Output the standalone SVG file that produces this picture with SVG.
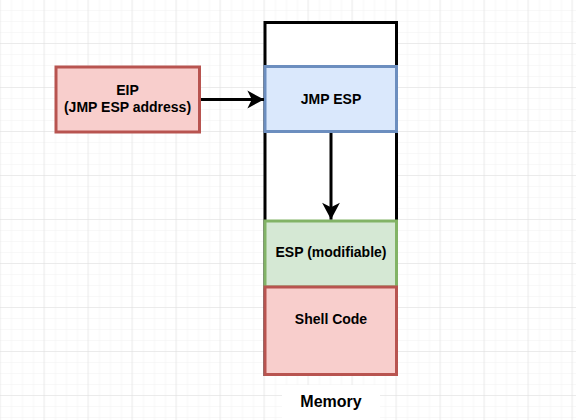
<svg xmlns="http://www.w3.org/2000/svg" width="576" height="420" viewBox="0 0 576 420">
  <defs>
    <pattern id="minor" width="11" height="11" patternUnits="userSpaceOnUse" x="0.5" y="0">
      <path d="M11 0V11M0 11H11" fill="none" stroke="#f0f0f0" stroke-width="1"/>
    </pattern>
    <pattern id="major" width="44" height="44" patternUnits="userSpaceOnUse" x="0.5" y="0">
      <rect width="44" height="44" fill="url(#minor)"/>
      <path d="M44 0V44M0 44H44" fill="none" stroke="#dedede" stroke-width="1"/>
    </pattern>
    <marker id="arrow" markerUnits="userSpaceOnUse" markerWidth="20" markerHeight="20" viewBox="-16 -9 17 18" refX="0" refY="0" orient="auto">
      <path d="M0 0L-15 -8L-11 0L-15 8Z" fill="#000"/>
    </marker>
    <style>
      .lbl{font-family:"Liberation Sans",Arial,sans-serif;font-weight:bold;font-size:14px;fill:#000;text-anchor:middle}
      .red{fill:#f8cecc;stroke:#b85450;stroke-width:3}
      .blue{fill:#dae8fc;stroke:#6c8ebf;stroke-width:3}
      .green{fill:#d5e8d4;stroke:#82b366;stroke-width:3}
      .edge{fill:none;stroke:#000;stroke-width:3;marker-end:url(#arrow)}
    </style>
  </defs>
  <rect width="576" height="420" fill="#fff"/>
  <rect width="576" height="420" fill="url(#major)"/>

  <g id="memory">
    <rect x="265" y="22.5" width="131.5" height="352" fill="#fff" stroke="#000" stroke-width="3"/>
    <rect x="282" y="385" width="98" height="40" fill="#fff"/>
    <text class="lbl" x="331" y="407" style="font-size:16px">Memory</text>
  </g>

  <g id="eip">
    <rect class="red" x="56" y="67" width="143.5" height="65"/>
    <text class="lbl" x="127.5" y="95">EIP</text>
    <text class="lbl" x="127.5" y="112">(JMP ESP address)</text>
  </g>

  <g id="jmp-esp">
    <rect class="blue" x="265" y="66.5" width="131.5" height="65"/>
    <text class="lbl" x="331" y="104">JMP ESP</text>
  </g>

  <g id="esp">
    <rect class="green" x="265" y="221" width="131.5" height="66"/>
    <text class="lbl" x="331" y="257">ESP (modifiable)</text>
  </g>

  <g id="shell-code">
    <rect class="red" x="265" y="287" width="131.5" height="87.5"/>
    <text class="lbl" x="331" y="324">Shell Code</text>
  </g>

  <g id="connectors">
    <path class="edge" d="M201 99.5H264"/>
    <path class="edge" d="M331 133V219.5"/>
  </g>
</svg>
